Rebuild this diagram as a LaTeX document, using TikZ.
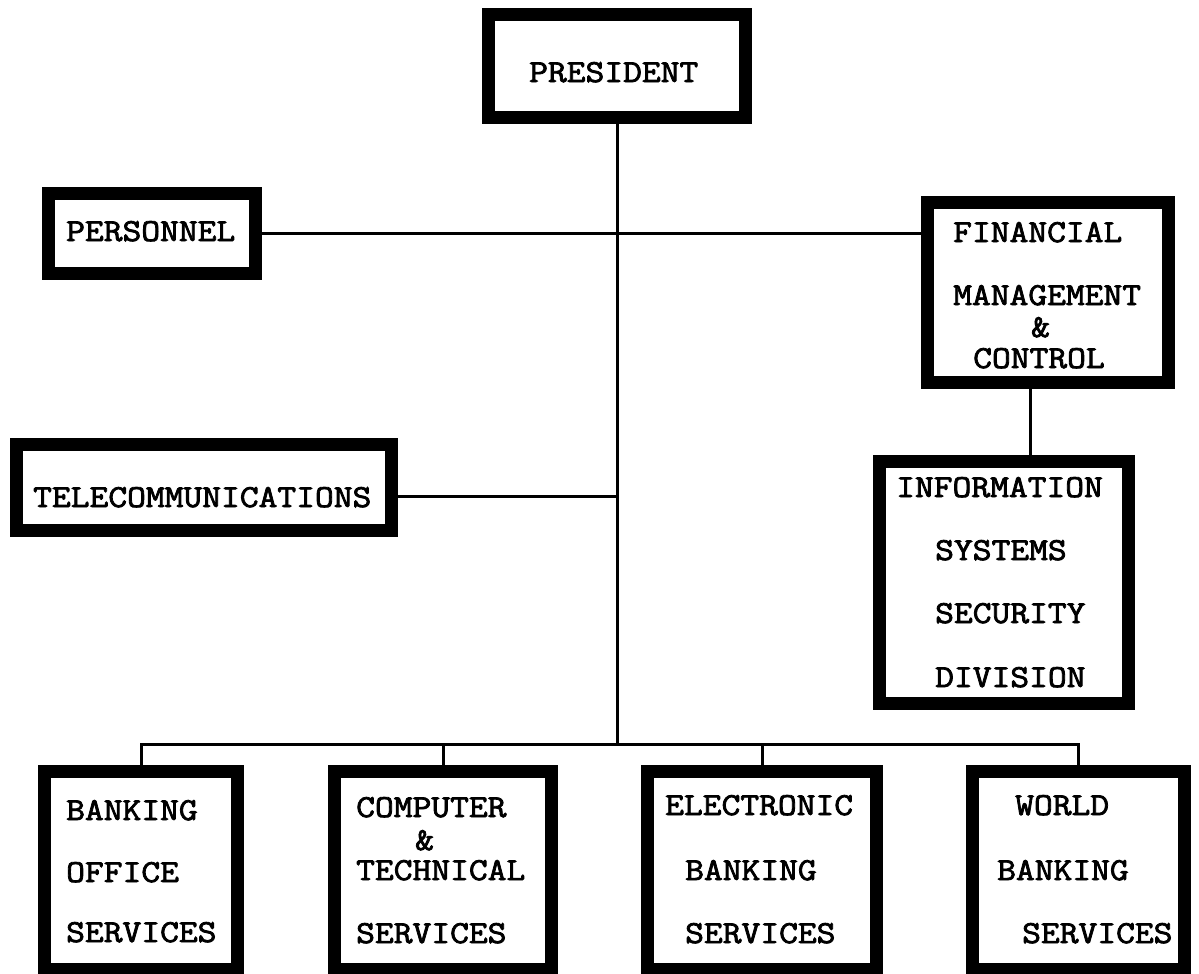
\documentclass[tikz,border=0pt]{standalone}
\usepackage{fontspec}
\newfontfamily\typewriter[FakeStretch=1.14, FakeBold=2.5]{Latin Modern Mono}
\begin{document}
\begin{tikzpicture}[x=1pt,y=-1pt,
  unit/.style={draw=black, line width=13pt, rectangle, inner sep=0pt, fill=white},
  wire/.style={draw=black, line width=3pt},
  lbl/.style={anchor=base west, inner sep=0pt, font=\typewriter\fontsize{32}{38}\selectfont}]
\useasboundingbox (0,0) rectangle (1199,974);
\fill[white] (0,0) rectangle (1199,974);

% boxes (outer size = minimum size + border width)
\node[unit, minimum width=257pt, minimum height=103pt] (pres)  at (617,66) {};
\node[unit, minimum width=207pt, minimum height=80pt]  (pers)  at (152,233.5) {};
\node[unit, minimum width=241pt, minimum height=180pt] (fin)   at (1048,292) {};
\node[unit, minimum width=375pt, minimum height=86pt]  (tele)  at (204,487.5) {};
\node[unit, minimum width=249pt, minimum height=242pt] (info)  at (1004,582) {};
\node[unit, minimum width=193pt, minimum height=198pt] (bank)  at (141,870.5) {};
\node[unit, minimum width=217pt, minimum height=198pt] (comp)  at (443,870.5) {};
\node[unit, minimum width=229pt, minimum height=198pt] (elec)  at (762,870.5) {};
\node[unit, minimum width=212pt, minimum height=198pt] (world) at (1078.5,870.5) {};

% helper coordinates for the connector levels
\coordinate (busy) at (0,744);
\coordinate (tj) at (617,496);
\coordinate (fi) at (1030,0);

% connectors
\draw[wire] (pres.south) -- (pres.south |- busy);
\draw[wire] (pers.east) -- (pers.east -| fin.west);
\draw[wire] (tj -| tele.east) -- (tj);
\draw[wire] (fin.south -| fi) -- (info.north -| fi);
\draw[wire] (bank.north) -- (bank.north |- busy) -- (world.north |- busy) -- (world.north);
\draw[wire] (comp.north) -- (comp.north |- busy);
\draw[wire] (elec.north) -- (elec.north |- busy);

% labels
\node[lbl] (tpres) at (529,82) {PRESIDENT};
\node[lbl] (tpers) at (66,241) {PERSONNEL};
\node[lbl] (tfin1) at (953,242) {FINANCIAL};
\node[lbl] (tfin2) at (953,305) {MANAGEMENT};
\node[lbl] (tfin3) at (1031,337) {\&};
\node[lbl] (tfin4) at (973,368) {CONTROL};
\node[lbl] (ttele) at (33,507) {TELECOMMUNICATIONS};
\node[lbl] (tinf1) at (896,497) {INFORMATION};
\node[lbl] (tinf2) at (935,560) {SYSTEMS};
\node[lbl] (tinf3) at (935,623) {SECURITY};
\node[lbl] (tinf4) at (935,687) {DIVISION};
\node[lbl] (tbnk1) at (66,820) {BANKING};
\node[lbl] (tbnk2) at (66,882) {OFFICE};
\node[lbl] (tbnk3) at (66,942) {SERVICES};
\node[lbl] (tcmp1) at (356,817) {COMPUTER};
\node[lbl] (tcmp2) at (415,850) {\&};
\node[lbl] (tcmp3) at (356,880) {TECHNICAL};
\node[lbl] (tcmp4) at (356,943) {SERVICES};
\node[lbl] (tele1) at (665,815) {ELECTRONIC};
\node[lbl] (tele2) at (685,880) {BANKING};
\node[lbl] (tele3) at (685,943) {SERVICES};
\node[lbl] (twld1) at (1015,815) {WORLD};
\node[lbl] (twld2) at (997,880) {BANKING};
\node[lbl] (twld3) at (1022,943) {SERVICES};
\end{tikzpicture}
\end{document}
